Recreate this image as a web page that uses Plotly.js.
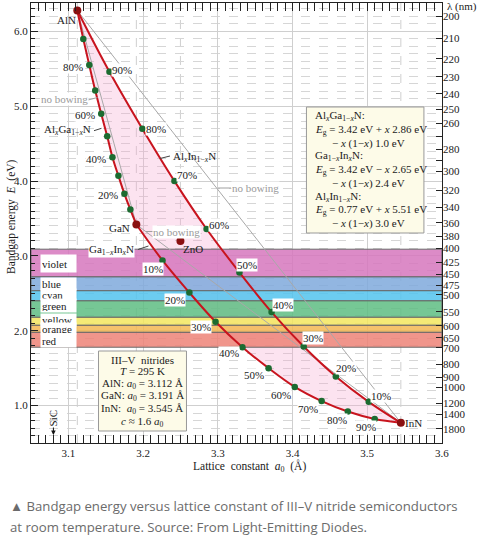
<!DOCTYPE html>
<html><head><meta charset="utf-8">
<script src="https://cdn.plot.ly/plotly-3.0.1.min.js"></script>
<style>
html,body{margin:0;padding:0;background:#fff;}
#chart{width:478px;height:539px;position:absolute;left:0;top:0;}
#cap{position:absolute;left:10px;top:496px;width:468px;font-family:"Open Sans",sans-serif;font-size:13.2px;line-height:21px;color:#6b6b6b;white-space:nowrap;}
</style></head><body>
<div id="chart"></div>
<div id="cap">▲ Bandgap energy versus lattice constant of III–V nitride semiconductors<br>at room temperature. Source: From Light-Emitting Diodes.</div>
<script>
// ---------------- data ----------------
const composition = [0,10,20,30,40,50,60,70,80,90,100];            // % of first element in alloy name
const alganA = [3.191,3.183,3.175,3.167,3.159,3.152,3.144,3.136,3.128,3.120,3.112];
const alganE = [3.42,3.62,3.83,4.07,4.32,4.60,4.90,5.21,5.55,5.90,6.28];
const gainnA = [3.191,3.226,3.262,3.297,3.333,3.368,3.403,3.439,3.474,3.510,3.545];
const gainnE = [3.42,2.94,2.51,2.12,1.78,1.50,1.25,1.06,0.92,0.82,0.77];
const alinnA = [3.545,3.502,3.458,3.415,3.372,3.329,3.285,3.242,3.199,3.155,3.112];
const alinnE = [0.77,1.05,1.39,1.79,2.25,2.78,3.36,4.00,4.70,5.46,6.28];
const binaryNames = ['AlN','GaN','InN'];
const binaryA = [3.112,3.191,3.545];
const binaryE = [6.28,3.42,0.77];
const oxideNames = ['ZnO'];
const oxideA = [3.25];
const oxideE = [3.20];
const sicA = 3.08;
const bandNames = ['violet','blue','cyan','green','yellow','orange','red'];
const bandTop =    [3.09,2.72,2.535,2.40,2.18,2.073,1.979];
const bandBottom = [2.72,2.535,2.40,2.18,2.073,1.979,1.78];
const lambdaTicks = [200,210,220,230,240,250,260,270,280,290,300,320,340,360,380,400,425,450,475,500,550,600,650,700,800,900,1000,1200,1400,1800];
const lambdaUnlabeled = [270,290];

// ---------------- style / layout helpers ----------------
const SERIF = '"Liberation Serif","Times New Roman","DejaVu Serif",serif';
const W=478, H=539;
const M = {l:31, r:36, t:3, b:96};
const xRange=[3.05,3.6], yRange=[0.5,6.38];
const PW = W-M.l-M.r, PH = H-M.t-M.b;
const px2x = px => xRange[0] + (px-M.l)/PW*(xRange[1]-xRange[0]);
const py2y = py => yRange[1] - (py-M.t)/PH*(yRange[1]-yRange[0]);
const bandColors = ['rgba(214,120,190,0.86)','rgba(128,170,220,0.86)','rgba(84,196,237,0.86)','rgba(96,190,131,0.86)','rgba(243,231,96,0.86)','rgba(243,184,84,0.86)','rgba(237,131,120,0.86)'];
const RED='#c8141e', GREEN='#1c6b30', DARKRED='#8a1010';

const traces = [];
const polyA = gainnA.concat(alinnA.slice(1), alganA.slice().reverse().slice(1));
const polyE = gainnE.concat(alinnE.slice(1), alganE.slice().reverse().slice(1));
traces.push({x:polyA,y:polyE,mode:'lines',fill:'toself',fillcolor:'rgba(245,170,210,0.33)',line:{width:0},hoverinfo:'skip',showlegend:false});
bandNames.forEach((n,i)=>{
  traces.push({x:[xRange[0],xRange[1],xRange[1],xRange[0],xRange[0]],y:[bandBottom[i],bandBottom[i],bandTop[i],bandTop[i],bandBottom[i]],
    mode:'lines',fill:'toself',fillcolor:bandColors[i],line:{color:'#6a6a6a',width:1},hoverinfo:'skip',showlegend:false});
});
traces.push({x:[binaryA[0],binaryA[1],binaryA[2],binaryA[0]],y:[binaryE[0],binaryE[1],binaryE[2],binaryE[0]],mode:'lines',line:{color:'#a8a8a8',width:1},hoverinfo:'skip',showlegend:false});
[[alganA,alganE],[gainnA,gainnE],[alinnA,alinnE]].forEach(([a,e])=>{
  traces.push({x:a,y:e,mode:'lines',line:{color:RED,width:2,shape:'spline'},hoverinfo:'skip',showlegend:false});
});
const inner = arr => arr.slice(1,-1);
traces.push({x:inner(alganA).concat(inner(gainnA),inner(alinnA)),y:inner(alganE).concat(inner(gainnE),inner(alinnE)),
  mode:'markers',marker:{color:GREEN,size:6.5},hoverinfo:'skip',showlegend:false});
traces.push({x:binaryA.concat(oxideA),y:binaryE.concat(oxideE),mode:'markers',marker:{color:DARKRED,size:8},hoverinfo:'skip',showlegend:false});
traces.push({x:[xRange[0]],y:[yRange[0]],yaxis:'y2',mode:'markers',marker:{opacity:0},hoverinfo:'skip',showlegend:false});

// ---------------- annotations ----------------
const ann = [];
const F = (s,c)=>({family:SERIF,size:s||11,color:c||'#1a1a1a'});
function lab(x,y,text,opt){ann.push(Object.assign({x:x,y:y,xref:'x',yref:'y',text:text,showarrow:false,xanchor:'center',yanchor:'middle',font:F()},opt||{}));}
function labPx(px,py,text,opt){lab(px2x(px),py2y(py),text,opt);}

const alganLabIdx = [2,4,6,8];
alganLabIdx.forEach(i=>lab(alganA[i],alganE[i],composition[i]+'%',{xshift:-16.5,yshift:-1.5,bgcolor:'#fff',borderpad:0}));
const gainnOff = [[-10,8.5],[-14.8,7.8],[-14.7,5.5],[-13.2,6.1],[-14.6,6.5],[-13.6,8.4],[-14,8],[-11,8.8],[-9,7.9]];
for(let i=1;i<=9;i++) lab(gainnA[i],gainnE[i],composition[i]+'%',{xshift:gainnOff[i-1][0],yshift:-gainnOff[i-1][1],bgcolor:'#fff',borderpad:0});
const alinnOff = [[12.4,-6.1],[9.8,-8.3],[9.6,-8.2],[11,-6.7],[7.5,-7.3],[12.7,-4.3],[12.5,-6.3],[13.4,0.4],[12.8,-1.9]];
for(let i=1;i<=9;i++) lab(alinnA[i],alinnE[i],composition[i]+'%',{xshift:alinnOff[i-1][0],yshift:-alinnOff[i-1][1],bgcolor:'#fff',borderpad:0});

const binOff = [[-10.8,9.5],[-17.2,3.8],[13,0.5]];
binaryNames.forEach((n,i)=>lab(binaryA[i],binaryE[i],n,{xshift:binOff[i][0],yshift:-binOff[i][1]}));
lab(oxideA[0],oxideE[0],oxideNames[0],{xshift:12.5,yshift:-8.3});

labPx(68,129.5,'Al<sub><i>x</i></sub>Ga<sub>1−<i>x</i></sub>N',{});
labPx(195,157,'Al<sub><i>x</i></sub>In<sub>1−<i>x</i></sub>N',{});
labPx(112,250,'Ga<sub>1−<i>x</i></sub>In<sub><i>x</i></sub>N',{bgcolor:'#fff',borderpad:0});
labPx(65,99,'no bowing',{font:F(11,'#9a9a9a'),bgcolor:'#fff',borderpad:0});
labPx(177,231.5,'no bowing',{font:F(11,'#9a9a9a'),bgcolor:'#fff',borderpad:0});
labPx(255.5,188,'no bowing',{font:F(11,'#9a9a9a'),bgcolor:'#fff',borderpad:0});

const bandLabY = [263,284,294.5,305.5,319.5,328.3,340.7];
const bandLabH = [15,10,9,11,10,9,11];
bandNames.forEach((n,i)=>labPx(40,bandLabY[i],n,{xanchor:'left',align:'left',width:33,height:bandLabH[i],bgcolor:'#fff',borderpad:1,font:F(11)}));

const fLines = [
 [313,116,'Al<sub><i>x</i></sub>Ga<sub>1−<i>x</i></sub>N:'],
 [313,130,'<i>E</i><sub>g</sub> = 3.42 eV + <i>x</i> 2.86 eV'],
 [330,143,'− <i>x</i> (1−<i>x</i>) 1.0 eV'],
 [313,156,'Ga<sub>1−<i>x</i></sub>In<sub><i>x</i></sub>N:'],
 [313,170,'<i>E</i><sub>g</sub> = 3.42 eV − <i>x</i> 2.65 eV'],
 [330,183,'− <i>x</i> (1−<i>x</i>) 2.4 eV'],
 [313,196.5,'Al<sub><i>x</i></sub>In<sub>1−<i>x</i></sub>N:'],
 [313,210,'<i>E</i><sub>g</sub> = 0.77 eV + <i>x</i> 5.51 eV'],
 [330,223,'− <i>x</i> (1−<i>x</i>) 3.0 eV']];
fLines.forEach(l=>labPx(l[0],l[1],l[2],{xanchor:'left'}));
const nLines = [
 [359.5,'III–V\u00a0 nitrides'],
 [371,'<i>T</i> = 295 K'],
 [383.5,'AlN: <i>a</i><sub>0</sub> = 3.112 Å'],
 [396,'GaN: <i>a</i><sub>0</sub> = 3.191 Å'],
 [409,'InN:\u00a0 <i>a</i><sub>0</sub> = 3.545 Å'],
 [422,'<i>c</i> ≈ 1.6 <i>a</i><sub>0</sub>']];
nLines.forEach(l=>labPx(142.5,l[0],l[1],{}));

lab(sicA,py2y(418),'SiC',{textangle:-90});
ann.push({x:sicA,y:py2y(435),xref:'x',yref:'y',ax:0,ay:-9,text:'',showarrow:true,arrowhead:2,arrowsize:0.9,arrowwidth:1,arrowcolor:'#111'});

function paperLab(px,py,text,opt){ann.push(Object.assign({xref:'paper',yref:'paper',x:(px-M.l)/PW,y:1-(py-M.t)/PH,text:text,showarrow:false,xanchor:'center',yanchor:'middle',font:F(11.5)},opt||{}));}
paperLab(249,467,'Lattice\u00a0 constant\u00a0 <i>a</i><sub>0</sub>\u00a0 (Å)');
paperLab(11,217,'Bandgap energy\u00a0 <i>E</i>\u00a0 (eV)',{textangle:-90});
paperLab(445,6,'λ (nm)',{xanchor:'left',font:F(11)});

// ---------------- shapes ----------------
const shapes = [];
binaryA.concat(oxideA).forEach(a=>shapes.push({type:'line',xref:'x',yref:'paper',x0:a,x1:a,y0:0,y1:1,line:{color:'#cfcfcf',width:1,dash:'dash'},layer:'below'}));
function seg(x0,y0,x1,y1,c){shapes.push({type:'line',xref:'x',yref:'y',x0:px2x(x0),y0:py2y(y0),x1:px2x(x1),y1:py2y(y1),line:{color:c,width:1},layer:'above'});}
seg(94,130.7,101.5,128.3,'#444');
seg(160,158.5,170,156,'#444');
seg(138,249.5,148.5,246,'#444');
seg(88,100,97.5,97.5,'#a0a0a0');
seg(146,231.5,154,231.5,'#a0a0a0');
seg(218,188,231,188,'#a0a0a0');
function box(x0,y0,x1,y1){shapes.push({type:'rect',xref:'x',yref:'y',x0:px2x(x0),y0:py2y(y0),x1:px2x(x1),y1:py2y(y1),fillcolor:'#fdfbe8',line:{color:'#999',width:1},layer:'above'});}
box(306.5,107,424,233);
box(98.5,351,186.5,431);

// ---------------- layout ----------------
const tf = F(11,'#222');
const layout = {
  width:W,height:H,margin:M,paper_bgcolor:'#fff',plot_bgcolor:'#fff',showlegend:false,
  xaxis:{range:[xRange[0],xRange[1]+0.0001],tick0:3.1,dtick:0.1,tickformat:'.1f',ticks:'inside',ticklen:8,tickcolor:'#222',
    showline:true,linecolor:'#222',linewidth:1,mirror:'allticks',showgrid:true,gridcolor:'#cfcfcf',gridwidth:1,zeroline:false,tickfont:tf,
    minor:{dtick:0.01,ticks:'inside',ticklen:4,tickcolor:'#222',showgrid:false}},
  yaxis:{range:yRange,tick0:0,dtick:1,tickformat:'.1f',ticks:'inside',ticklen:7,tickcolor:'#222',
    showline:true,linecolor:'#222',linewidth:1,mirror:true,showgrid:true,gridcolor:'#cfcfcf',gridwidth:1,zeroline:false,tickfont:tf,
    minor:{dtick:0.1,ticks:'inside',ticklen:4,tickcolor:'#222',showgrid:true,griddash:'dash',gridcolor:'#d6d6d6',gridwidth:1}},
  yaxis2:{overlaying:'y',side:'right',range:yRange,tickmode:'array',tickvals:lambdaTicks.map(l=>1240/l),
    ticktext:lambdaTicks.map(l=>lambdaUnlabeled.includes(l)?'':String(l)),ticks:'inside',ticklen:6,tickcolor:'#222',
    showgrid:false,zeroline:false,showline:false,tickfont:tf},
  shapes:shapes,annotations:ann
};
Plotly.newPlot('chart',traces,layout,{staticPlot:true,displayModeBar:false});
</script>
</body></html>
